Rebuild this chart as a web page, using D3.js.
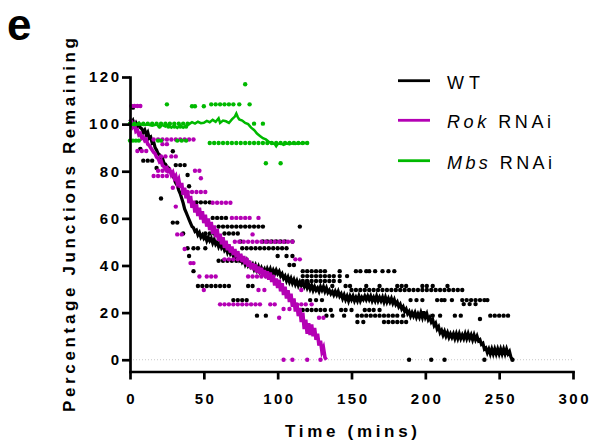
<!DOCTYPE html>
<html><head><meta charset="utf-8">
<script src="https://cdn.jsdelivr.net/npm/d3@7"></script>
<style>body{margin:0;background:#fff}svg{display:block}</style>
</head><body><svg id="c" width="590" height="444"></svg>
<script>
// ---------- data ----------
const xTicks = [0, 50, 100, 150, 200, 250, 300];
const yTicks = [0, 20, 40, 60, 80, 100, 120];
const seriesNames = ["WT", "Rok RNAi", "Mbs RNAi"];
const seriesColors = ["#000000", "#b400b4", "#00b900"];

const wtLine = [[0,102],[1,100.5],[2,101.5],[3,99.5],[4,100.5],[5,99],[6,100],[7,98.5],[8,98],[9,96.5],[10,97.5],[11,95.5],[12,96.5],[13,94],[14,94.5],[15,92],[16,92.5],[17,90],[18,89],[19,87.5],[20,87],[21,85.5],[22,85.5],[23,83.5],[24,83],[25,82],[26,81.5],[27,80],[28,79.5],[29,78],[30,77],[31,75],[32,74],[33,72],[34,70.5],[35,68.5],[36,66.5],[37,64],[38,62.5],[39,61],[40,59.5],[41,58],[42,56.5],[43,56],[44,54.5],[45,55],[46,53],[47,54],[48,52],[49,53],[50,51.5],[51,52.5],[52,50.5],[53,52],[54,50.5],[55,51.5],[56,49.5],[57,51],[58,49],[59,50],[60,48],[61,49.5],[62,47.5],[63,48.5],[64,46.5],[65,47.5],[66,45.5],[67,47],[68,45],[69,46],[70,44],[71,45],[72,43],[73,44.5],[74,42.5],[75,43.5],[76,41.5],[77,42.5],[78,40.5],[79,42],[80,40],[81,41],[82,39.5],[83,40.5],[84,38.5],[85,40],[86,38],[87,39.5],[88,37.5],[89,39],[90,37.5],[91,38.5],[92,36.5],[93,38.5],[94,37],[95,38.5],[96,36.5],[97,38],[98,36.5],[99,38],[100,36.5],[101,37.5],[102,35.5],[103,36.5],[104,34.5],[105,35.5],[106,33.5],[107,35],[108,33],[109,34.5],[110,32.5],[111,34],[112,32],[113,33.5],[114,31.5],[115,33],[116,31.5],[117,32.5],[118,31],[119,32.5],[120,30.5],[121,32],[122,30],[123,31.5],[124,29.5],[125,31],[126,29.5],[127,30.5],[128,29],[129,31],[130,29.5],[131,31],[132,29],[133,30.5],[134,28.5],[135,29.5],[136,28],[137,29],[138,27.5],[139,29],[140,27.5],[141,29],[142,27],[143,28],[144,26],[145,27.5],[146,25.5],[147,27],[148,25],[149,27],[150,25.5],[151,27],[152,25],[153,26.5],[154,25],[155,27],[156,25],[157,26.5],[158,25.5],[159,27],[160,25.5],[161,27],[162,25.5],[163,27],[164,25],[165,26.5],[166,25],[167,27],[168,25],[169,26.5],[170,25],[171,26.5],[172,24.5],[173,26.5],[174,24.5],[175,26],[176,24.5],[177,26],[178,24],[179,25.5],[180,23.5],[181,24.5],[182,22.5],[183,23.5],[184,21.5],[185,22.5],[186,20.5],[187,21.5],[188,19.5],[189,20.5],[190,18.5],[191,20],[192,18.5],[193,20],[194,18],[195,19.5],[196,18],[197,20],[198,18],[199,20.5],[200,18],[201,19.5],[202,17],[203,18],[204,16],[205,17],[206,14.5],[207,15.5],[208,13],[209,14],[210,11.5],[211,12.5],[212,10.5],[213,12],[214,10],[215,11.5],[216,9.5],[217,11],[218,9.5],[219,11],[220,9],[221,11],[222,9],[223,11],[224,9],[225,10.5],[226,9],[227,11],[228,9],[229,11],[230,9],[231,10.5],[232,8.5],[233,10.5],[234,8.5],[235,10],[236,8],[237,8.5],[238,6.5],[239,7],[240,4.5],[241,5],[242,3],[243,4.5],[244,2.5],[245,4.5],[246,2.5],[247,4.5],[248,2.5],[249,4.5],[250,2.5],[251,4.5],[252,2.5],[253,4.5],[254,2.5],[255,4.5],[256,2.5],[257,3.5],[258,1],[259,0]];

const rokLine = [[0,102],[1,101],[2,99],[3,100],[4,97],[5,97.5],[6,95.5],[7,96],[8,94],[9,94.5],[10,93],[11,93.5],[12,91.5],[13,91],[14,90],[15,89],[16,88],[17,87.5],[18,86],[19,85.5],[20,84],[21,84.5],[22,82.5],[23,82],[24,81],[25,81.5],[26,80],[27,80.5],[28,78.5],[29,79.5],[30,77],[31,78],[32,75],[33,76.5],[34,73],[35,75],[36,70],[37,73],[38,68.5],[39,71.5],[40,66.5],[41,69.5],[42,64.5],[43,67.5],[44,62.5],[45,66],[46,61],[47,64.5],[48,59.5],[49,63],[50,58],[51,61.5],[52,56.5],[53,60],[54,55],[55,58.5],[56,53.5],[57,57],[58,52],[59,55.5],[60,50.5],[61,53.5],[62,49],[63,52],[64,47.5],[65,50.5],[66,46.5],[67,49],[68,45.5],[69,48],[70,44.5],[71,47],[72,43.5],[73,46],[74,42.5],[75,45],[76,41.5],[77,44],[78,40.5],[79,43],[80,39.5],[81,42],[82,38.5],[83,41],[84,38],[85,40.5],[86,37],[87,39.5],[88,36.5],[89,39],[90,35.5],[91,38],[92,35],[93,37.5],[94,34],[95,37],[96,33],[97,36],[98,31.5],[99,34.5],[100,30.5],[101,34],[102,29],[103,32.5],[104,27.5],[105,31],[106,26],[107,29.5],[108,24.5],[109,28],[110,22.5],[111,26],[112,20.5],[113,24],[114,18.5],[115,22],[116,16],[117,20],[118,13],[119,17],[120,11],[121,15.5],[122,10.5],[123,15],[124,10],[125,13.5],[126,8.5],[127,11],[128,6],[129,8],[130,3.5],[131,5],[132,1],[133,0]];

const mbsLine = [[0,100],[3,99.5],[6,100],[9,99.6],[12,99.8],[15,99.3],[18,99.8],[20,98.8],[22,99.6],[24,99],[26,99.8],[28,98.5],[30,99.4],[32,98.4],[34,99.5],[36,98.5],[38,99.2],[40,100],[42,100.8],[44,100.2],[46,101],[48,100.4],[50,100.6],[52,101.4],[54,100.8],[56,101.8],[58,101],[60,102.5],[61,100.5],[63,101.5],[65,101.2],[67,100.5],[69,102],[71,103.2],[72,104.5],[73,103],[74,102],[76,101.5],[78,100.5],[80,100],[82,98.5],[84,97.5],[86,96],[88,95],[90,94],[92,93.5],[94,92.5],[96,92],[98,91.5],[99,90.6],[100,91.5],[102,91.8],[104,91.2],[106,91.8],[108,91.5],[110,91.9],[112,91.6],[114,92],[116,91.8],[118,92],[120,92]];

// dots: [value, [times]]
const wtDots = [
  [107,[2]],[100,[0,4]],[89.5,[7]],[88.5,[29]],[84.5,[9,12,15]],[82.6,[31,34,37]],[81.4,[18]],[78.4,[39]],[73.6,[40]],[68.4,[21]],
  [66.8,[45,48,51,54]],[60.2,[56,59,62,65]],[58.2,[29,32]],
  [56.5,[60,63,66,69,72,75,78,81,84,87,90,115]],
  [53.6,[36,51,54,57,64,67,70,73]],
  [50.2,[75,90,93,96,99,102,105,110]],
  [47.3,[39,43,46,51,76,79,82,85,88,91,94,97,100,103,106]],
  [44,[40,100,106,110]],[42,[60,63,66,69,72,75]],[40.2,[108,111]],
  [37.6,[43,117,120,123,126,129,132,142,153,156,160,162,166,171,175,179]],
  [35.5,[117,120,123,126,129,132,135,138,142,147]],
  [33.4,[117,120,123,126,129,132,135,138,142]],
  [31.3,[46,49,52,55,58,61,64,67,80,83,137,146,149,160,169,181,184,187,198,201,205,215]],
  [29.6,[150,153,156,159,162,165,168,171,174,177,180,183,186,189,192,195,198,201,204,207,210,213,216,219,222,225]],
  [25.3,[70,73,76,79,122,126,130,190,194,198,208,211,213,218,225,228,231,234,237,240,242]],
  [23.6,[226,230,234]],
  [21.1,[117,120,123,126,129,132,136,143,146,150,159,162,165,169]],
  [18.7,[86,92,133,137,145,154,157,160,163,166,169,172,175,178,181,185,205,210,220,224,244,247,250,253,256]],
  [17.3,[237]],
  [16,[154,158,172,175,178,181,184,187]],
  [0,[189,204,213,240,259]]
];
const rokDots = [
  [107.7,[1,3,5,7]],[93.5,[16,19,22,25,28,31,34,37,40,43]],[91.5,[22,25]],[88.6,[5,8,11]],[86.3,[21,24,28,31]],
  [80.2,[19,22,25,44,47]],[78,[16,19,22,25]],[77,[48]],[73,[29]],[71.2,[39,42,45,48,51]],
  [66.6,[56,59,62,65,68]],[65,[31]],[60.2,[69,72,75,78,81,87]],[53.2,[32,35,83]],
  [50.1,[71,74,77,80,83,86,89,92,95,98,101,104,107,110]],[47,[37]],
  [42.6,[64,67,70,73,76,79,112,115]],[41,[41,43]],
  [35.3,[47,52,55,58,80,83,86,89,92]],[29.6,[50,87,91,116]],
  [23.5,[61,64,67,70,73,76,79,82,85,88,95,98,113,116,119,123]],
  [21.5,[104,108]],[17.8,[101,128,131]],[0,[104,110,120,129]]
];
const mbsDots = [
  [116.9,[78]],[108.4,[25,55,58,61,64,67,70,74,81]],[107.6,[42,44,50]],
  [100.2,[0,3,6,9,12,15,18,21,24,27,30,33,36,39,84,90]],
  [99,[20,26,30,34,38]],
  [93,[0,2,4,6,19,21,32,35,38]],
  [92,[54,57,60,63,66,69,72,75,78,81,84,87,90,93,96,99,102,105,108,111,114,117,120]],
  [83.4,[92,102]]
];

const lines = [wtLine, rokLine, mbsLine];
const dots = [wtDots, rokDots, mbsDots];
const lineWidths = [3.2, 3.6, 2.5];

// ---------- drawing ----------
const svg = d3.select("#c");
const FONT = "'Liberation Sans', Arial, Helvetica, sans-serif";
const x = d3.scaleLinear().domain([0, 300]).range([130, 573]);
const y = d3.scaleLinear().domain([-5, 120]).range([371.5, 77]);

// panel letter
svg.append("text").attr("x", 7).attr("y", 40).attr("font-family", FONT)
  .attr("font-weight", "bold").attr("font-size", 44).text("e");

// zero reference line
svg.append("line").attr("x1", x(0)).attr("x2", x(300)).attr("y1", y(0)).attr("y2", y(0))
  .attr("stroke", "#c8c8c8").attr("stroke-width", 1).attr("stroke-dasharray", "1,2");

// data
const line = d3.line().x(d => x(d[0])).y(d => y(d[1]));
for (let i = 0; i < 3; i++) {
  const g = svg.append("g");
  dots[i].forEach(([v, ts]) => {
    g.selectAll(null).data(ts).enter().append("circle")
      .attr("cx", t => x(t)).attr("cy", y(v)).attr("r", 2.2).attr("fill", seriesColors[i]);
  });
  g.append("path").datum(lines[i]).attr("d", line).attr("fill", "none")
    .attr("stroke", seriesColors[i]).attr("stroke-width", lineWidths[i]).attr("stroke-linejoin", "miter");
}

// axes
const gx = svg.append("g").attr("transform", `translate(0,${y(-5)})`)
  .call(d3.axisBottom(x).tickValues(xTicks).tickSize(8).tickSizeOuter(0).tickPadding(13.5));
const gy = svg.append("g").attr("transform", `translate(${x(0)},0)`)
  .call(d3.axisLeft(y).tickValues(yTicks).tickSize(8).tickSizeOuter(0).tickPadding(3));
[gx, gy].forEach(g => {
  g.select(".domain").attr("stroke", "#000").attr("stroke-width", 2.7).attr("stroke-linecap", "square");
  g.selectAll(".tick line").attr("stroke", "#000").attr("stroke-width", 2.7);
  g.selectAll(".tick text").attr("font-family", FONT).attr("font-weight", "bold")
    .attr("font-size", 15).attr("fill", "#000").style("letter-spacing", "2.5px");
});
gx.selectAll(".tick text").attr("dx", "1.25px");
gy.selectAll(".tick text").attr("dx", "2.5px");

// axis titles
svg.append("text").attr("transform", "translate(74.5,225) rotate(-90)")
  .attr("text-anchor", "middle").attr("font-family", FONT).attr("font-weight", "bold")
  .attr("font-size", 17).attr("textLength", 374).attr("lengthAdjust", "spacing")
  .text("Percentage Junctions Remaining");
svg.append("text").attr("x", 351).attr("y", 437)
  .attr("text-anchor", "middle").attr("font-family", FONT).attr("font-weight", "bold")
  .attr("font-size", 17).attr("textLength", 132).attr("lengthAdjust", "spacing")
  .text("Time (mins)");

// legend
const legY = [80.7, 120.3, 160.7];
const legLen = [33, 104, 105];
seriesNames.forEach((name, i) => {
  svg.append("line").attr("x1", 398).attr("x2", 430).attr("y1", legY[i]).attr("y2", legY[i])
    .attr("stroke", seriesColors[i]).attr("stroke-width", 2.8);
  const t = svg.append("text").attr("x", 447).attr("y", legY[i] + 7.8)
    .attr("font-family", FONT).attr("font-size", 18).attr("fill", "#000")
    .attr("textLength", legLen[i]).attr("lengthAdjust", "spacing");
  const parts = name.split(" ");
  if (parts.length > 1) {
    t.append("tspan").attr("font-style", "italic").text(parts[0]);
    t.append("tspan").text(" " + parts.slice(1).join(" "));
  } else {
    t.text(name);
  }
});
</script>
</body></html>
